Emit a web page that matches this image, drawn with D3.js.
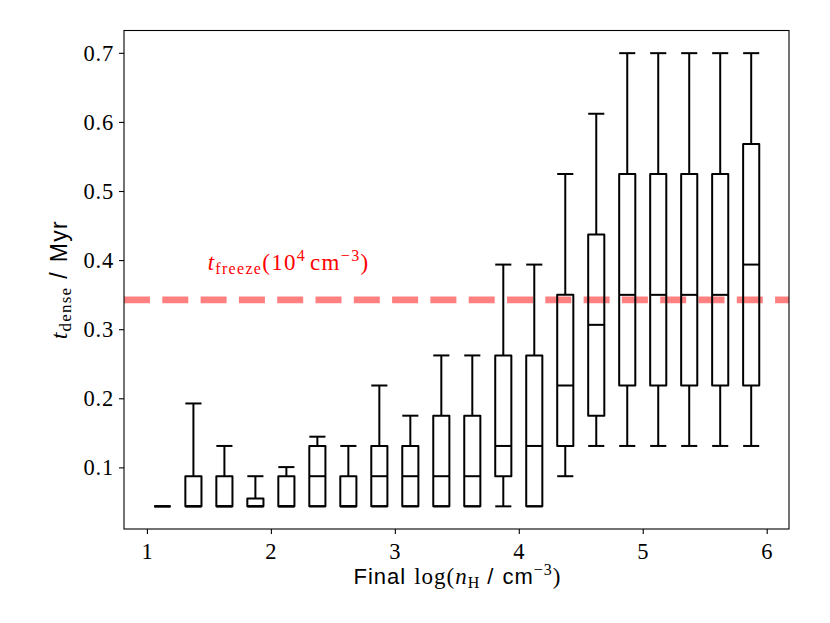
<!DOCTYPE html>
<html>
<head>
<meta charset="utf-8">
<script src="https://cdn.jsdelivr.net/npm/d3@7"></script>
<style>
  body { margin: 0; background: #fff; }
  svg { display: block; }
</style>
</head>
<body>
<div id="graph_area"></div>
<script>
// Box positions (final log n_H bins)
const positions = [1.125, 1.375, 1.625, 1.875, 2.125, 2.375, 2.625, 2.875, 3.125, 3.375,
                   3.625, 3.875, 4.125, 4.375, 4.625, 4.875, 5.125, 5.375, 5.625, 5.875];
// Box statistics, t_dense in Myr
const whiskerLow  = [0.0436, 0.0436, 0.0436, 0.0436, 0.0436, 0.0436, 0.0436, 0.0436, 0.0436, 0.0436,
                     0.0436, 0.0436, 0.0436, 0.0872, 0.1310, 0.1310, 0.1310, 0.1310, 0.1310, 0.1310];
const quart1      = [0.0436, 0.0436, 0.0436, 0.0436, 0.0436, 0.0436, 0.0436, 0.0436, 0.0436, 0.0436,
                     0.0436, 0.0872, 0.0436, 0.1310, 0.1748, 0.2185, 0.2185, 0.2185, 0.2185, 0.2185];
const medians     = [0.0436, 0.0436, 0.0436, 0.0436, 0.0436, 0.0872, 0.0436, 0.0872, 0.0872, 0.0872,
                     0.0872, 0.1310, 0.1310, 0.2185, 0.3063, 0.3497, 0.3497, 0.3497, 0.3497, 0.3935];
const quart3      = [0.0436, 0.0872, 0.0872, 0.0550, 0.0872, 0.1310, 0.0872, 0.1310, 0.1310, 0.1748,
                     0.1748, 0.2620, 0.2620, 0.3497, 0.4370, 0.5246, 0.5246, 0.5246, 0.5246, 0.5680];
const whiskerHigh = [0.0436, 0.1925, 0.1310, 0.0872, 0.1004, 0.1444, 0.1310, 0.2185, 0.1748, 0.2620,
                     0.2620, 0.3935, 0.3935, 0.5246, 0.6118, 0.6995, 0.6995, 0.6995, 0.6995, 0.6995];
const xTicks = [1, 2, 3, 4, 5, 6];
const yTicks = [0.1, 0.2, 0.3, 0.4, 0.5, 0.6, 0.7];
const tFreeze = 0.3425;

const W = 830, H = 623;
const margin = { top: 30.5, right: 41, bottom: 94, left: 124 };
const width = W - margin.left - margin.right;
const height = H - margin.top - margin.bottom;
const boxWidth = 0.13;

const serif = "'Liberation Serif', 'DejaVu Serif', serif";
const sans = "'Liberation Sans', 'DejaVu Sans', sans-serif";

const svg = d3.select('#graph_area')
  .append('svg')
    .attr('width', W)
    .attr('height', H)
  .append('g')
    .attr('transform', `translate(${margin.left},${margin.top})`);

const x = d3.scaleLinear().domain([0.815, 6.18]).range([0, width]);
const y = d3.scaleLinear().domain([0.0108, 0.7323]).range([height, 0]);

svg.append('defs').append('clipPath').attr('id', 'clip')
  .append('rect').attr('width', width).attr('height', height);

// Axes
const xAxis = svg.append('g')
  .attr('transform', `translate(0,${height})`)
  .call(d3.axisBottom(x).tickValues(xTicks).tickFormat(d3.format('d')).tickSize(5).tickSizeOuter(0));
const yAxis = svg.append('g')
  .call(d3.axisLeft(y).tickValues(yTicks).tickFormat(d3.format('.1f')).tickSize(5).tickSizeOuter(0));
[xAxis, yAxis].forEach(a => {
  a.select('.domain').remove();
  a.selectAll('line').attr('stroke', '#000').attr('stroke-width', 1.1);
  a.selectAll('text').attr('font-family', serif).attr('font-size', 22.5)
    .attr('letter-spacing', 0.8).attr('fill', '#000');
});
xAxis.selectAll('text').attr('dy', '0.98em');
yAxis.selectAll('text').attr('x', -10);

// Dashed t_freeze line
svg.append('line')
  .attr('clip-path', 'url(#clip)')
  .attr('x1', 0).attr('x2', width)
  .attr('y1', y(tFreeze)).attr('y2', y(tFreeze))
  .attr('stroke', '#ff8080')
  .attr('stroke-width', 6.8)
  .attr('stroke-dasharray', '26,12.3');

// Boxes
const boxes = positions.map((p, i) => ({
  p, lo: whiskerLow[i], q1: quart1[i], med: medians[i], q3: quart3[i], hi: whiskerHigh[i]
}));
const bw = x(boxWidth) - x(0);
const g = svg.append('g')
  .attr('stroke', '#000')
  .attr('stroke-width', 2)
  .attr('fill', 'none')
  .attr('stroke-linejoin', 'round');

boxes.forEach(b => {
  const cx = x(b.p);
  // whiskers
  g.append('line').attr('x1', cx).attr('x2', cx).attr('y1', y(b.q3)).attr('y2', y(b.hi));
  g.append('line').attr('x1', cx).attr('x2', cx).attr('y1', y(b.q1)).attr('y2', y(b.lo));
  // caps
  g.append('line').attr('x1', cx - bw / 2).attr('x2', cx + bw / 2).attr('y1', y(b.hi)).attr('y2', y(b.hi));
  g.append('line').attr('x1', cx - bw / 2).attr('x2', cx + bw / 2).attr('y1', y(b.lo)).attr('y2', y(b.lo));
  // box
  g.append('rect')
    .attr('x', cx - bw / 2).attr('width', bw)
    .attr('y', y(b.q3)).attr('height', y(b.q1) - y(b.q3));
  // median
  g.append('line').attr('x1', cx - bw / 2).attr('x2', cx + bw / 2).attr('y1', y(b.med)).attr('y2', y(b.med));
});

// Frame
svg.append('rect')
  .attr('width', width).attr('height', height)
  .attr('fill', 'none').attr('stroke', '#000').attr('stroke-width', 1.1);

// t_freeze label
const lab = svg.append('text')
  .attr('x', x(1.49)).attr('y', y(0.386))
  .attr('fill', '#ff0000')
  .attr('font-family', serif)
  .attr('font-size', 23)
  .attr('letter-spacing', 1.3);
lab.append('tspan').attr('font-style', 'italic').text('t');
lab.append('tspan').attr('font-size', 16).attr('dy', 4).text('freeze');
lab.append('tspan').attr('dy', -4).text('(10');
lab.append('tspan').attr('font-size', 16).attr('dy', -9).text('4');
lab.append('tspan').attr('dy', 9).attr('dx', 4).text('cm');
lab.append('tspan').attr('font-size', 16).attr('dy', -9).text('\u22123');
lab.append('tspan').attr('dy', 9).text(')');

// X label
const xl = svg.append('text')
  .attr('x', width / 2 + 1).attr('y', height + 55)
  .attr('text-anchor', 'middle')
  .attr('font-size', 23)
  .attr('letter-spacing', 1)
  .attr('fill', '#000');
xl.append('tspan').attr('font-family', sans).attr('font-size', 22).text('Final');
xl.append('tspan').attr('font-family', serif).attr('dx', 8).text('log(');
xl.append('tspan').attr('font-family', serif).attr('font-style', 'italic').text('n');
xl.append('tspan').attr('font-family', serif).attr('font-size', 16).attr('dy', 4).text('H');
xl.append('tspan').attr('font-family', sans).attr('font-size', 22).attr('dy', -4).attr('dx', 7).text('/');
xl.append('tspan').attr('font-family', sans).attr('font-size', 22).attr('dx', 8).text('cm');
xl.append('tspan').attr('font-family', serif).attr('font-size', 16).attr('dy', -9).text('\u22123');
xl.append('tspan').attr('font-family', serif).attr('dy', 9).text(')');

// Y label
const yl = svg.append('text')
  .attr('transform', `translate(${-57},${height / 2}) rotate(-90)`)
  .attr('text-anchor', 'middle')
  .attr('font-size', 24)
  .attr('letter-spacing', 1.2)
  .attr('fill', '#000');
yl.append('tspan').attr('font-family', serif).attr('font-style', 'italic').text('t');
yl.append('tspan').attr('font-family', serif).attr('font-size', 17).attr('dy', 4).text('dense');
yl.append('tspan').attr('font-family', sans).attr('font-size', 23).attr('dy', -4).attr('dx', 8).text('/');
yl.append('tspan').attr('font-family', sans).attr('font-size', 23).attr('dx', 9).text('Myr');
</script>
</body>
</html>
